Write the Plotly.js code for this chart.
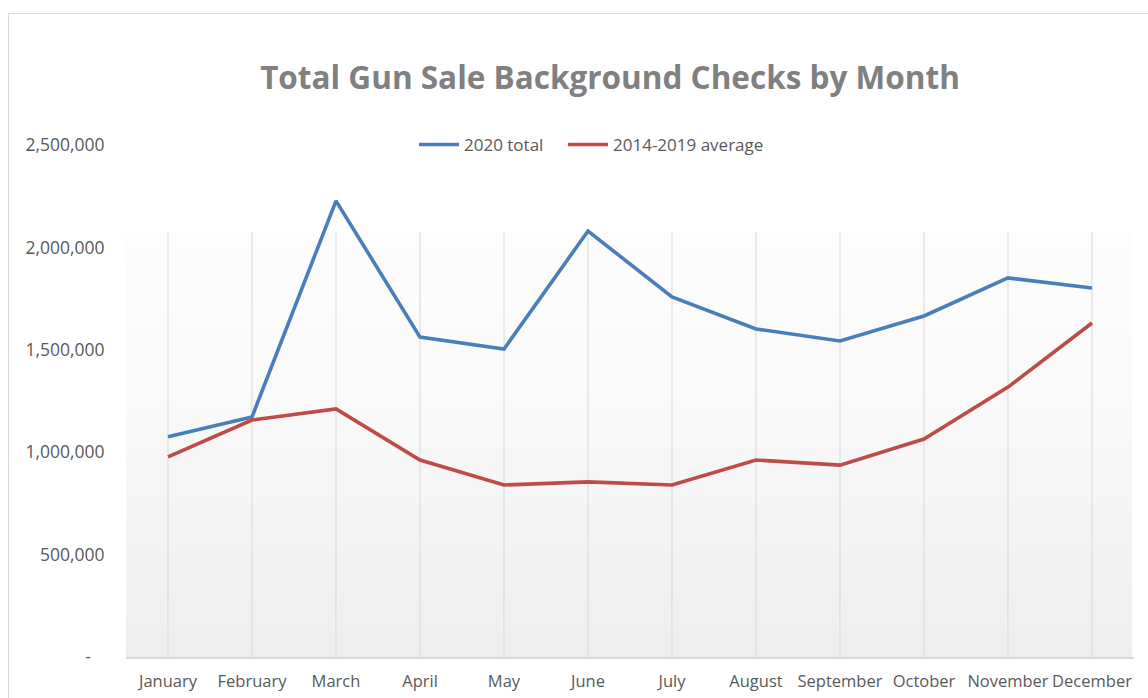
<!DOCTYPE html>
<html>
<head>
<meta charset="utf-8">
<script src="https://cdn.plot.ly/plotly-3.0.1.min.js"></script>
<style>
  html, body { margin: 0; padding: 0; background: #ffffff; overflow: hidden; }
  #wrap { position: relative; width: 1148px; height: 698px; }
  #frame { position: absolute; left: 8px; top: 13px; width: 1300px; height: 900px;
           border: 1px solid #d9d9d9; box-sizing: border-box; pointer-events: none; z-index: 3; }
  #bg { position: absolute; left: 126px; top: 232px; width: 1006px; height: 425px;
        background: linear-gradient(to bottom, #fdfdfd 0%, #f9f9f9 40%, #f3f3f3 75%, #eeeeee 100%); z-index: 0; }
  #chart { position: absolute; left: 0; top: 0; width: 1148px; height: 698px; z-index: 1; }
</style>
</head>
<body>
<div id="wrap">
  <div id="bg"></div>
  <div id="chart"></div>
  <div id="frame"></div>
</div>
<script>
const months = ["January","February","March","April","May","June","July","August","September","October","November","December"];
const total2020 = [1075000, 1172000, 2227000, 1562000, 1504000, 2080000, 1758000, 1602000, 1543000, 1665000, 1851000, 1802000];
const avg2014_2019 = [977000, 1157000, 1211000, 962000, 840000, 855000, 840000, 962000, 937000, 1064000, 1318000, 1631000];
const yTickVals = [0, 500000, 1000000, 1500000, 2000000, 2500000];
const yTickText = ["-\u00a0\u00a0\u00a0", "500,000", "1,000,000", "1,500,000", "2,000,000", "2,500,000"];

const FONT = "'Open Sans', 'Liberation Sans', sans-serif";
const GRID_TOP = (657 - 232) / 512;  // gridlines stop below the legend band

const traces = [
  { x: months, y: total2020, type: "scatter", mode: "lines", name: "2020 total",
    line: { color: "#4a7ebb", width: 3.6 }, legend: "legend" },
  { x: months, y: avg2014_2019, type: "scatter", mode: "lines", name: "2014-2019 average",
    line: { color: "#be4b48", width: 3.6 }, legend: "legend2" }
];

const gridShapes = months.map(m => ({
  type: "line", xref: "x", yref: "paper", x0: m, x1: m, y0: 0, y1: GRID_TOP,
  line: { color: "#d9d9d9", width: 1 }, layer: "below"
}));

const legendStyle = {
  orientation: "h", xanchor: "left", y: 1.0, yanchor: "middle",
  font: { family: FONT, size: 17, color: "#595959" },
  bgcolor: "rgba(0,0,0,0)", itemwidth: 40
};

const layout = {
  width: 1148, height: 698,
  margin: { l: 126, r: 14, t: 145, b: 41, pad: 0 },
  paper_bgcolor: "rgba(0,0,0,0)",
  plot_bgcolor: "rgba(0,0,0,0)",
  font: { family: FONT, color: "#595959", size: 17 },
  title: {
    text: "<b>Total Gun Sale Background Checks by Month</b>",
    font: { family: FONT, size: 31.5, color: "#808080" },
    x: 610 / 1148, xref: "container", xanchor: "center",
    y: 1 - 78 / 698, yref: "container", yanchor: "middle"
  },
  showlegend: true,
  legend: Object.assign({}, legendStyle, { x: (414 - 126) / 1008 }),
  legend2: Object.assign({}, legendStyle, { x: (563 - 126) / 1008 }),
  shapes: gridShapes,
  xaxis: {
    type: "category", range: [-0.5, 11.5],
    showgrid: false,
    showline: true, linecolor: "#d9d9d9", linewidth: 1.5,
    ticks: "outside", ticklen: 9, tickcolor: "rgba(0,0,0,0)",
    tickangle: 0,
    tickfont: { family: FONT, size: 16.5, color: "#595959" },
    zeroline: false, fixedrange: true
  },
  yaxis: {
    range: [0, 2500000],
    tickvals: yTickVals, ticktext: yTickText,
    showgrid: false, zeroline: false, showline: false,
    ticks: "outside", ticklen: 17, tickcolor: "rgba(0,0,0,0)",
    tickfont: { family: FONT, size: 17.5, color: "#595959" },
    fixedrange: true
  }
};

Plotly.newPlot("chart", traces, layout, { displayModeBar: false, staticPlot: true });
</script>
</body>
</html>
